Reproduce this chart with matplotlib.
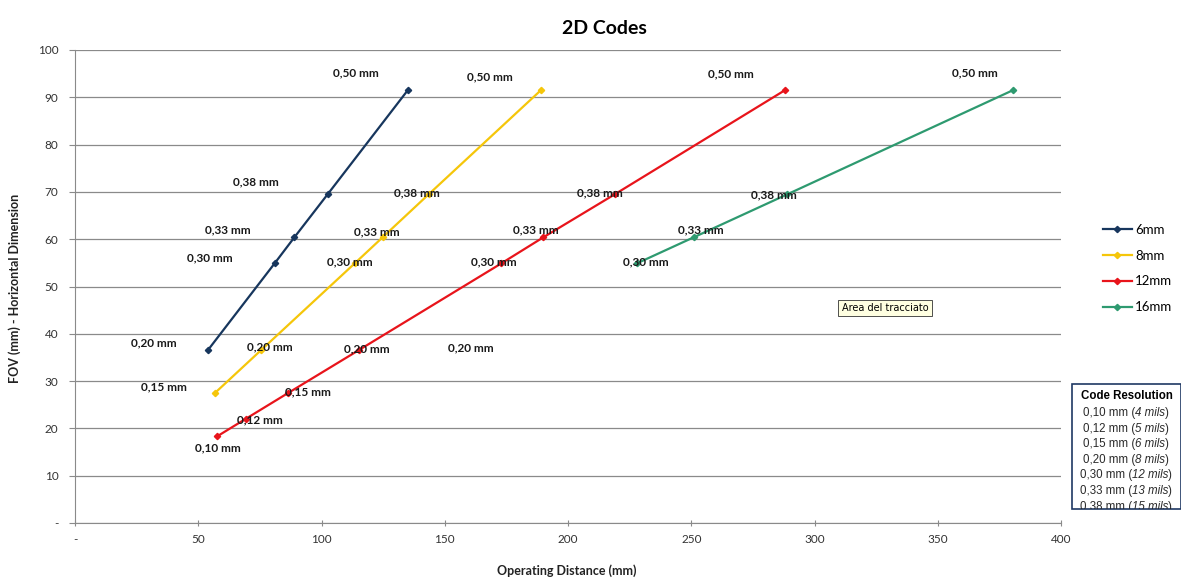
import matplotlib
matplotlib.use("Agg")
import matplotlib.pyplot as plt
from matplotlib.patches import Rectangle

plt.rcParams['font.family'] = ['Lato', 'DejaVu Sans']

# ---- data ----
series_names = ['6mm', '8mm', '12mm', '16mm']
series_colors = ['#17365D', '#F5C60A', '#E8141B', '#2E9A70']

x_6mm = [54.0, 81.0, 89.0, 102.5, 135.0]
y_6mm = [36.6, 54.9, 60.4, 69.5, 91.5]

x_8mm = [56.8, 75.6, 113.5, 124.8, 143.5, 189.0]
y_8mm = [27.5, 36.6, 54.9, 60.4, 69.5, 91.5]

x_12mm = [57.6, 69.2, 86.5, 115.3, 173.0, 190.0, 219.0, 288.0]
y_12mm = [18.3, 22.0, 27.5, 36.6, 54.9, 60.4, 69.5, 91.5]

x_16mm = [228.0, 251.0, 289.0, 380.5]
y_16mm = [54.9, 60.4, 69.5, 91.5]

# data labels (text, position in data units)
label_texts = ['0,50 mm'] * 4 + ['0,38 mm'] * 4 + ['0,33 mm'] * 4 + ['0,30 mm'] * 4 + \
              ['0,20 mm'] * 4 + ['0,15 mm'] * 2 + ['0,12 mm', '0,10 mm']
label_x = [114, 168.3, 266, 365,
           73.4, 138.7, 212.9, 283.5,
           62, 122.5, 187, 253.9,
           54.7, 111.5, 170, 231.5,
           32, 79, 118.4, 160.6,
           36.1, 94.5,
           75, 58]
label_y = [95.1, 94.3, 94.9, 95.1,
           72.1, 69.8, 69.8, 69.3,
           61.9, 61.5, 61.9, 61.9,
           56.0, 55.2, 55.2, 55.2,
           38.1, 37.2, 36.8, 37.0,
           28.8, 27.7,
           21.8, 15.9]

x_ticks = [0, 50, 100, 150, 200, 250, 300, 350, 400]
x_tick_labels = ['-', '50', '100', '150', '200', '250', '300', '350', '400']
y_ticks = [0, 10, 20, 30, 40, 50, 60, 70, 80, 90, 100]
y_tick_labels = ['-', '10', '20', '30', '40', '50', '60', '70', '80', '90', '100']

code_res_mm = ['0,10 mm', '0,12 mm', '0,15 mm', '0,20 mm', '0,30 mm', '0,33 mm', '0,38 mm']
code_res_mils = ['4 mils', '5 mils', '6 mils', '8 mils', '12 mils', '13 mils', '15 mils']

# ---- figure ----
W, H = 1181, 578
fig = plt.figure(figsize=(W / 100, H / 100), dpi=100)
ax = fig.add_axes([75 / W, 1 - 523 / H, (1061 - 75) / W, (523 - 50) / H])

xs = [x_6mm, x_8mm, x_12mm, x_16mm]
ys = [y_6mm, y_8mm, y_12mm, y_16mm]
handles = []
for xv, yv, c, n in zip(xs, ys, series_colors, series_names):
    h, = ax.plot(xv, yv, color=c, lw=1.6, marker='D', markersize=3.2, label=n, zorder=3)
    handles.append(h)

for t, lx, ly in zip(label_texts, label_x, label_y):
    ax.text(lx, ly, t, fontsize=8.5, fontweight='bold', color='#1a1a1a',
            ha='center', va='center', zorder=4)

ax.set_xlim(0, 400)
ax.set_ylim(0, 100)
ax.set_xticks(x_ticks)
ax.set_xticklabels(x_tick_labels, fontsize=8.5, color='#333333')
ax.set_yticks(y_ticks)
ax.set_yticklabels(y_tick_labels, fontsize=8.5, color='#333333')
ax.grid(axis='y', color='#8a8a8a', lw=0.9)
ax.set_axisbelow(True)
for s in ['top', 'right']:
    ax.spines[s].set_visible(False)
ax.spines['left'].set_color('#8a8a8a')
ax.spines['bottom'].set_color('#8a8a8a')
ax.tick_params(axis='both', color='#8a8a8a', length=4)
ax.tick_params(axis='x', direction='inout', pad=6)
ax.tick_params(axis='y', pad=8)

fig.text(604 / W, 1 - 28 / H, '2D Codes', fontsize=14, fontweight='bold',
         ha='center', va='center')
fig.text(567 / W, 1 - 571 / H, 'Operating Distance (mm)', fontsize=9,
         fontweight='bold', ha='center', va='center', color='#222222')
fig.text(15 / W, 1 - 288 / H, 'FOV (mm) - Horizontal Dimension', fontsize=9,
         fontweight='bold', ha='center', va='center', rotation=90, color='#222222')

fig.legend(handles=handles, loc='center left', bbox_to_anchor=(1091 / W, 1 - 268.5 / H),
           frameon=False, fontsize=9.5, handlelength=2.2, labelspacing=1.05,
           handletextpad=0.25)

# tooltip
fig.text(885 / W, 1 - 308 / H, 'Area del tracciato', fontsize=7,
         family='DejaVu Sans', ha='center', va='center',
         bbox=dict(boxstyle='square,pad=0.35', fc='#FFFFE1', ec='#333333', lw=0.6))

# code resolution box
box_top, box_bottom, box_left = 384, 509, 1072
rect = Rectangle((box_left / W, 1 - box_bottom / H), (1181 - box_left) / W,
                 (box_bottom - box_top) / H, transform=fig.transFigure,
                 fc='white', ec='#1F3864', lw=1.2)
fig.patches.append(rect)
fig.text(1127 / W, 1 - 396 / H, 'Code Resolution', fontsize=8.3, fontweight='bold',
         family='Liberation Sans', ha='center', va='center')

renderer = fig.canvas.get_renderer()
fs = 8.3
for i, (mm, mils) in enumerate(zip(code_res_mm, code_res_mils)):
    yy = 1 - (413 + 15.6 * i) / H
    parts = [(mm + ' (', 'normal'), (mils, 'italic'), (')', 'normal')]
    texts = []
    for s, style in parts:
        t = fig.text(0, yy, s, fontsize=fs, family='Liberation Sans', style=style,
                     ha='left', va='center', color='#2a2a2a')
        t.set_clip_path(rect)
        texts.append(t)
    widths = [t.get_window_extent(renderer).width for t in texts]
    total = sum(widths)
    xpix = 1126 - total / 2
    for t, w in zip(texts, widths):
        t.set_x(xpix / W)
        xpix += w

fig.savefig('out.png', dpi=100)
